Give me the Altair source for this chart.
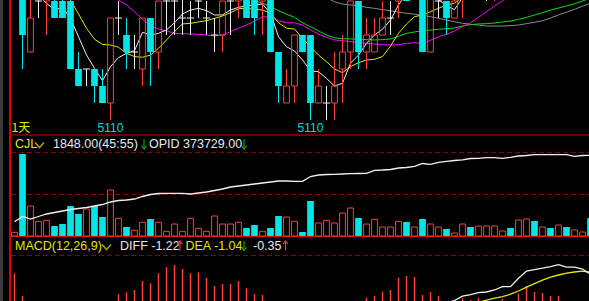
import altair as alt
import pandas as pd

# ---------------- data ----------------
opens = [5118, 5120, 5114, 5117, 5117, 5117, 5117, 5117, 5113, 5113,
         5113, 5112, 5111, 5116, 5115, 5114, 5113, 5116, 5114, 5117,
         5117, 5116, 5116, 5117, 5116, 5115, 5115, 5117, 5117, 5118,
         5118, 5117, 5118, 5114, 5111, 5112, 5115, 5115, 5111, 5111,
         5111, 5113, 5114, 5117, 5114, 5114, 5115, 5116, 5117, 5118,
         5118, 5119, 5114, 5117, 5117, 5116, 5118, 5120, 5119, 5119,
         5119, 5120, 5121, 5120, 5121, 5122, 5121, 5122, 5121, 5122,
         5121, 5121, 5122]
highs = [5120, 5121, 5118, 5118, 5119, 5118, 5118, 5117, 5114, 5113,
         5113, 5113, 5116, 5117, 5116, 5115, 5116, 5116, 5117, 5118,
         5118, 5118, 5117, 5118, 5117, 5116, 5117, 5118, 5118, 5118,
         5118, 5118, 5118, 5114, 5113, 5115, 5115, 5115, 5113, 5112,
         5114, 5115, 5117, 5117, 5116, 5116, 5117, 5117, 5118, 5119,
         5120, 5120, 5118, 5118, 5117, 5118, 5119, 5121, 5121, 5120,
         5121, 5122, 5121, 5122, 5123, 5122, 5123, 5123, 5123, 5122,
         5122, 5123, 5122]
lows = [5118, 5113, 5114, 5116, 5115, 5116, 5116, 5113, 5112, 5112,
        5111, 5111, 5110, 5115, 5113, 5113, 5112, 5112, 5113, 5115,
        5115, 5115, 5115, 5116, 5115, 5114, 5114, 5115, 5116, 5116,
        5115, 5115, 5114, 5111, 5111, 5111, 5114, 5110, 5111, 5110,
        5110, 5111, 5113, 5113, 5113, 5114, 5115, 5115, 5116, 5117,
        5118, 5114, 5114, 5116, 5115, 5116, 5116, 5118, 5118, 5117,
        5117, 5119, 5119, 5119, 5120, 5120, 5120, 5121, 5120, 5120,
        5120, 5120, 5120]
closes = [5119, 5115, 5116, 5117, 5119, 5116, 5116, 5113, 5112, 5113,
          5112, 5111, 5116, 5116, 5114, 5114, 5116, 5114, 5117, 5117,
          5117, 5116, 5116, 5117, 5116, 5115, 5117, 5117, 5118, 5116,
          5116, 5118, 5114, 5112, 5112, 5115, 5114, 5111, 5112, 5111,
          5112, 5114, 5117, 5114, 5115, 5115, 5116, 5116, 5118, 5117,
          5119, 5114, 5118, 5117, 5116, 5117, 5119, 5119, 5120, 5119,
          5120, 5121, 5120, 5121, 5122, 5121, 5122, 5121, 5122, 5121,
          5122, 5122, 5121]

ma5 = [5118.6, 5118.4, 5118.0, 5117.3, 5116.87, 5116.47, 5116.63, 5115.98, 5114.90, 5113.82,
       5113.04, 5112.31, 5113.14, 5113.67, 5113.92, 5114.08, 5115.16, 5115.00, 5115.10, 5115.30,
       5115.72, 5116.24, 5116.47, 5116.57, 5116.43, 5116.18, 5116.18, 5116.47, 5116.63, 5116.71,
       5116.78, 5116.82, 5116.28, 5114.90, 5114.31, 5114.06, 5113.53, 5112.90, 5112.84, 5112.45,
       5112.00, 5112.16, 5113.34, 5113.82, 5114.51, 5115.00, 5115.34, 5115.88, 5116.77, 5117.4,
       5117.8, 5117.6, 5117.3, 5117.1, 5116.7, 5116.5, 5117.2, 5117.6, 5118.0, 5118.2,
       5118.5, 5118.8, 5119.0, 5119.2, 5119.3, 5119.5, 5119.6, 5119.7, 5119.9, 5120.0,
       5120.1, 5120.2, 5120.3]
ma10 = [5117.9, 5117.9, 5117.8, 5117.7, 5117.6, 5117.5, 5117.3, 5117.06, 5116.24, 5115.40,
        5114.75, 5114.45, 5114.41, 5114.28, 5113.92, 5113.73, 5113.69, 5113.82, 5114.22, 5114.71,
        5115.20, 5115.65, 5115.69, 5115.77, 5115.84, 5115.98, 5116.12, 5116.31, 5116.55, 5116.57,
        5116.51, 5116.47, 5116.28, 5115.72, 5115.40, 5115.35, 5114.81, 5114.31, 5113.82, 5113.43,
        5113.00, 5112.78, 5113.14, 5113.37, 5113.53, 5113.57, 5113.73, 5114.35, 5115.10, 5115.65,
        5116.08, 5116.18, 5116.37, 5116.57, 5116.77, 5116.87, 5117.24, 5117.5, 5117.7, 5117.9,
        5118.1, 5118.3, 5118.4, 5118.6, 5118.7, 5118.8, 5118.9, 5119.0, 5119.1, 5119.2,
        5119.3, 5119.4, 5119.5]
ma20 = [5118.5, 5118.4, 5118.3, 5118.2, 5118.1, 5118.0, 5117.9, 5117.8, 5117.7, 5117.6,
        5117.5, 5117.4, 5117.2, 5117.06, 5116.77, 5116.37, 5115.92, 5115.55, 5115.35, 5115.24,
        5115.10, 5115.08, 5115.06, 5115.04, 5115.00, 5114.94, 5115.00, 5115.20, 5115.40, 5115.59,
        5115.82, 5116.08, 5116.04, 5115.84, 5115.72, 5115.72, 5115.59, 5115.30, 5115.06, 5114.87,
        5114.71, 5114.67, 5114.61, 5114.55, 5114.51, 5114.47, 5114.43, 5114.41, 5114.43, 5114.51,
        5114.55, 5114.49, 5114.69, 5114.90, 5115.04, 5115.24, 5115.49, 5115.72, 5116.04, 5116.37,
        5116.71, 5117.02, 5117.3, 5117.6, 5117.8, 5118.0, 5118.2, 5118.4, 5118.6, 5118.8,
        5119.0, 5119.1, 5119.2]
ma40 = [5118.9, 5118.9, 5118.8, 5118.8, 5118.7, 5118.7, 5118.6, 5118.6, 5118.5, 5118.5,
        5118.4, 5118.4, 5118.3, 5118.3, 5118.2, 5118.2, 5118.1, 5118.1, 5118.0, 5118.0,
        5117.9, 5117.9, 5117.8, 5117.8, 5117.7, 5117.6, 5117.5, 5117.4, 5117.3, 5117.18,
        5117.0, 5116.88, 5116.67, 5116.43, 5116.22, 5116.04, 5115.72, 5115.49, 5115.24, 5115.00,
        5114.84, 5114.78, 5114.77, 5114.75, 5114.73, 5114.71, 5114.73, 5114.77, 5114.92, 5115.10,
        5115.18, 5115.25, 5115.29, 5115.34, 5115.37, 5115.41, 5115.53, 5115.61, 5115.65, 5115.67,
        5115.71, 5115.77, 5115.82, 5115.92, 5116.04, 5116.18, 5116.31, 5116.47, 5116.59, 5116.71,
        5116.84, 5117.0, 5117.18]
ma60 = [5118.8, 5118.8, 5118.7, 5118.7, 5118.7, 5118.6, 5118.6, 5118.6, 5118.5, 5118.5,
        5118.5, 5118.4, 5118.4, 5118.4, 5118.3, 5118.3, 5118.3, 5118.2, 5118.2, 5118.2,
        5118.1, 5118.1, 5118.1, 5118.0, 5118.0, 5118.0, 5117.9, 5117.9, 5117.9, 5117.8,
        5117.8, 5117.7, 5117.7, 5117.6, 5117.6, 5117.5, 5117.5, 5117.4, 5117.3, 5117.18,
        5116.96, 5116.82, 5116.77, 5116.71, 5116.63, 5116.57, 5116.49, 5116.43, 5116.35, 5116.28,
        5116.22, 5116.16, 5116.08, 5115.98, 5115.88, 5115.78, 5115.69, 5115.63, 5115.59, 5115.53,
        5115.53, 5115.53, 5115.55, 5115.59, 5115.67, 5115.75, 5115.84, 5116.00, 5116.18, 5116.34,
        5116.51, 5116.69, 5116.88]

volume = [380, 8420, 3080, 1510, 1612, 1027, 1232, 3080, 2260, 2773,
          3080, 1950, 4724, 1818, 924, 585, 1407, 1746, 1407, 483,
          1232, 483, 1818, 791, 483, 2054, 1232, 1232, 1407, 822,
          1130, 483, 822, 2054, 1950, 1510, 411, 3594, 1335, 1612,
          1335, 2362, 2876, 1849, 1232, 1715, 924, 924, 1510, 1438,
          924, 1746, 1232, 924, 719, 308, 1232, 924, 1027, 1027,
          1027, 514, 822, 1643, 1746, 1541, 924, 822, 1130, 924,
          616, 411, 1848]
opid = [370409, 370669, 370544, 370669, 370794, 370869, 370944, 371019, 371069, 371119,
        371194, 371269, 371394, 371469, 371494, 371544, 371669, 371769, 371819, 371829,
        371829, 371829, 371794, 371844, 371894, 371969, 372044, 372144, 372194, 372244,
        372294, 372344, 372394, 372444, 372444, 372429, 372429, 372669, 372744, 372769,
        372779, 372794, 372809, 372819, 372829, 372979, 372994, 373019, 373094, 373119,
        373179, 373319, 373279, 373379, 373429, 373469, 373504, 373569, 373579, 373609,
        373609, 373579, 373629, 373694, 373719, 373759, 373759, 373759, 373759, 373759,
        373679, 373719, 373729]

macd_hist = [1.84, 0.70, 0.25, 0.10, -0.15, -0.35, -0.55, -0.80, -1.00, -1.10,
             -1.15, -1.10, -0.60, 0.79, 0.89, 1.00, 1.45, 1.34, 1.84, 2.14,
             2.25, 2.05, 1.84, 1.89, 1.62, 1.20, 1.30, 1.30, 1.45, 1.09,
             0.79, 0.75, 0.30, -0.20, -0.50, -0.60, -0.75, -0.95, -1.05, -1.10,
             -1.05, -0.70, -0.20, 0.20, 0.62, 0.70, 0.92, 1.00, 1.62, 1.70,
             1.65, 0.75, 0.90, 0.70, 0.30, 0.20, 0.59, 0.50, 0.62, 0.40,
             0.30, 0.55, 0.40, 0.82, 1.20, 0.90, 0.85, 0.70, 0.70, 0.30,
             0.10, -0.10, -0.35]
diff_line = [0.35, 0.20, 0.05, -0.10, -0.25, -0.40, -0.60, -0.85, -1.10, -1.30,
             -1.45, -1.55, -1.35, -1.20, -1.05, -0.95, -0.75, -0.65, -0.45, -0.25,
             -0.10, 0.00, 0.08, 0.15, 0.20, 0.22, 0.25, 0.28, 0.32, 0.33,
             0.33, 0.34, 0.20, -0.05, -0.30, -0.45, -0.60, -0.85, -1.05, -1.20,
             -1.30, -1.25, -1.00, -0.85, -0.70, -0.55, -0.40, -0.25, -0.05, 0.10,
             0.20, 0.15, 0.22, 0.28, 0.35, 0.47, 0.69, 0.77, 0.87, 0.90,
             1.00, 1.17, 1.17, 1.59, 1.95, 2.02, 2.09, 2.17, 2.27, 2.14,
             2.14, 2.05, 1.79]
dea_line = [0.10, 0.12, 0.11, 0.07, 0.01, -0.07, -0.17, -0.30, -0.46, -0.63,
            -0.80, -0.95, -1.03, -1.06, -1.06, -1.04, -0.98, -0.92, -0.82, -0.71,
            -0.59, -0.47, -0.36, -0.26, -0.17, -0.09, -0.02, 0.04, 0.10, 0.15,
            0.19, 0.22, 0.22, 0.17, 0.08, -0.03, -0.14, -0.28, -0.43, -0.58,
            -0.72, -0.83, -0.92, -0.94, -0.93, -0.89, -0.82, -0.73, -0.62, -0.49,
            -0.36, -0.24, -0.14, -0.05, 0.03, 0.10, 0.17, 0.28, 0.38, 0.49,
            0.59, 0.67, 0.79, 0.95, 1.14, 1.32, 1.49, 1.64, 1.75, 1.84,
            1.90, 1.94, 1.89]

low_label_bars = [12, 37]
period_label = "1天"
vol_title = "CJL"
vol_ratio = "(45:55)"
opid_name = "OPID"
macd_title = "MACD(12,26,9)"
diff_text = "DIFF -1.22"
dea_text = "DEA -1.04"
macd_text = "-0.35"

# ---------------- styling ----------------
RED = "#FF3C3C"
CYAN = "#00E6E6"
WHITE = "#F0F0F0"
YELLOW = "#E6E600"
MAGENTA = "#FF00FF"
GREEN = "#00E600"
GRAY = "#8C8C8C"
BORDER = "#D80000"
GRID = "#8B0000"
ARROW_GREEN = "#00B400"
TEXT_WHITE = "#E8E8F0"
FONT = "Liberation Sans"

n = len(closes)
df = pd.DataFrame({
    "i": list(range(n)), "o": opens, "h": highs, "l": lows, "c": closes,
    "vol": volume, "opid": opid, "ma5": ma5, "ma10": ma10, "ma20": ma20,
    "ma40": ma40, "ma60": ma60, "hist": macd_hist, "diff": diff_line, "dea": dea_line,
})
df["top"] = df[["o", "c"]].max(axis=1)
df["bot"] = df[["o", "c"]].min(axis=1)
df["x0"] = df["i"] - 0.42
df["x1"] = df["i"] + 0.42
df["hx0"] = df["i"] - 0.36
df["hx1"] = df["i"] + 0.36
df["tx0"] = df["i"] - 0.45
df["tx1"] = df["i"] + 0.45
df["zero"] = 0.0

up = df[df["c"] > df["o"]]
down = df[df["c"] < df["o"]]
doji = df[df["c"] == df["o"]]
vol_up = df[df["c"] >= df["o"]]
vol_down = df[df["c"] < df["o"]]
hist_pos = df[df["hist"] > 0]
lowmarks = df[df["i"].isin(low_label_bars)]
one = pd.DataFrame({"k": [0]})

xs = alt.Scale(domain=[-1.8125, 71.8125], nice=False, zero=False)


def X(f):
    return alt.X(f"{f}:Q", scale=xs, axis=None)


def ysc(dom, rng):
    return alt.Scale(domain=dom, range=rng, nice=False, zero=False)


PRICE = ysc([5109.235, 5117.06], [133, 0])
VOL = ysc([0, 10270], [236, 136])
OI = ysc([369694, 374694], [236, 136])
MACD = ysc([0, 3.7], [310, 236])


def Y(f, s):
    return alt.Y(f"{f}:Q", scale=s, axis=None)


layers = []

# frame decorations
layers.append(alt.Chart(one).mark_rect(color="#3A3A3A").encode(
    x=alt.value(0), x2=alt.value(3), y=alt.value(0), y2=alt.value(301)))
layers.append(alt.Chart(one).mark_rule(color=BORDER, strokeWidth=2).encode(
    x=alt.value(10), y=alt.value(0), y2=alt.value(301)))
for yy in [135, 236.5]:
    layers.append(alt.Chart(one).mark_rule(color=BORDER, strokeWidth=1.2).encode(
        x=alt.value(10), x2=alt.value(589), y=alt.value(yy)))
for yy in [152.5, 194.5, 255.5]:
    layers.append(alt.Chart(one).mark_rule(color=GRID, strokeWidth=1, strokeDash=[5, 3]).encode(
        x=alt.value(11), x2=alt.value(589), y=alt.value(yy)))

# moving averages
for col, colr in [("ma60", GRAY), ("ma40", GREEN), ("ma20", MAGENTA), ("ma10", YELLOW), ("ma5", WHITE)]:
    layers.append(alt.Chart(df).mark_line(color=colr, strokeWidth=1, clip=True).encode(
        x=X("i"), y=Y(col, PRICE)))

# candles
layers.append(alt.Chart(down).mark_rule(color=CYAN, strokeWidth=1, clip=True).encode(
    x=X("i"), y=Y("h", PRICE), y2="l"))
layers.append(alt.Chart(up).mark_rule(color=RED, strokeWidth=1, clip=True).encode(
    x=X("i"), y=Y("h", PRICE), y2="top"))
layers.append(alt.Chart(up).mark_rule(color=RED, strokeWidth=1, clip=True).encode(
    x=X("i"), y=Y("bot", PRICE), y2="l"))
layers.append(alt.Chart(doji).mark_rule(color=WHITE, strokeWidth=1, clip=True).encode(
    x=X("i"), y=Y("h", PRICE), y2="l"))
layers.append(alt.Chart(doji).mark_rule(color=WHITE, strokeWidth=1, clip=True).encode(
    x=X("tx0"), x2="tx1", y=Y("c", PRICE)))
layers.append(alt.Chart(down).mark_rect(color=CYAN, clip=True).encode(
    x=X("x0"), x2="x1", y=Y("o", PRICE), y2="c"))
layers.append(alt.Chart(up).mark_rect(fillOpacity=0, stroke=RED, strokeWidth=1, clip=True).encode(
    x=X("hx0"), x2="hx1", y=Y("o", PRICE), y2="c"))

# lowest-price markers and period label
layers.append(alt.Chart(lowmarks).mark_text(color="#00D8E0", font=FONT, fontSize=12,
                                            align="center", baseline="alphabetic", dy=12).encode(
    x=X("i"), y=Y("l", PRICE), text=alt.Text("l:Q", format="d")))
layers.append(alt.Chart(one).mark_text(text=period_label, color=YELLOW, font="Noto Sans CJK SC",
                                       fontSize=12, align="left", baseline="alphabetic").encode(
    x=alt.value(11.5), y=alt.value(132)))

# volume panel
layers.append(alt.Chart(vol_down).mark_rect(color=CYAN).encode(
    x=X("x0"), x2="x1", y=Y("vol", VOL), y2="zero"))
layers.append(alt.Chart(vol_up).mark_rect(fillOpacity=0, stroke=RED, strokeWidth=1).encode(
    x=X("hx0"), x2="hx1", y=Y("vol", VOL), y2="zero"))
layers.append(alt.Chart(df).mark_line(color=WHITE, strokeWidth=1.3).encode(
    x=X("i"), y=Y("opid", OI)))

# MACD panel
layers.append(alt.Chart(hist_pos).mark_rule(color=RED, strokeWidth=1.5, clip=True).encode(
    x=X("i"), y=Y("hist", MACD), y2="zero"))
layers.append(alt.Chart(df).mark_line(color=YELLOW, strokeWidth=1.3, clip=True).encode(
    x=X("i"), y=Y("dea", MACD)))
layers.append(alt.Chart(df).mark_line(color=WHITE, strokeWidth=1.3, clip=True).encode(
    x=X("i"), y=Y("diff", MACD)))


# header texts
def label(text, x, y, color, size=12.5):
    return alt.Chart(one).mark_text(text=text, align="left", baseline="alphabetic",
                                    font=FONT, fontSize=size, color=color).encode(
        x=alt.value(x), y=alt.value(y))


def chevron(x, y):
    return alt.Chart(one).mark_point(shape="M -1 -0.55 L 0 0.55 L 1 -0.55", size=81,
                                     filled=False, color=YELLOW, strokeWidth=1.6).encode(
        x=alt.value(x), y=alt.value(y))


def arrow(cx, y_top, y_bot, color, down=True):
    shaft = alt.Chart(one).mark_rule(color=color, strokeWidth=1.1).encode(
        x=alt.value(cx), y=alt.value(y_top), y2=alt.value(y_bot))
    tip = y_bot if down else y_top
    shape = "M -1 -1.3 L 0 0 L 1 -1.3" if down else "M -1 1.3 L 0 0 L 1 1.3"
    head = alt.Chart(one).mark_point(shape=shape, size=25, filled=False, color=color,
                                     strokeWidth=1.1, opacity=1).encode(
        x=alt.value(cx), y=alt.value(tip))
    return [shaft, head]


vol_value = f"{volume[-1]:.2f}{vol_ratio}"
opid_value = f"{opid_name} {opid[-1]:.2f}"
layers += [
    label(vol_title, 15, 148, YELLOW), chevron(39.5, 145),
    label(vol_value, 53, 148, TEXT_WHITE),
    label(opid_value, 149, 148, TEXT_WHITE),
    label(macd_title, 15, 250, YELLOW), chevron(106.5, 247),
    label(diff_text, 120, 250, TEXT_WHITE),
    label(dea_text, 185.5, 250, YELLOW),
    label(macd_text, 253, 250, TEXT_WHITE),
]
layers += arrow(144, 139, 149, ARROW_GREEN, down=True)
layers += arrow(244, 139, 149, ARROW_GREEN, down=True)
layers += arrow(180, 241, 250.5, RED, down=False)
layers += arrow(244, 241, 250.5, ARROW_GREEN, down=True)
layers += arrow(285.5, 241, 250.5, RED, down=False)

chart = alt.layer(*layers).resolve_scale(y="independent").properties(
    width=589, height=301, background="#000000", padding=0,
    autosize=alt.AutoSizeParams(type="none"),
).configure_view(stroke=None)

chart.save("out.html", embed_options={"renderer": "svg", "actions": False})
